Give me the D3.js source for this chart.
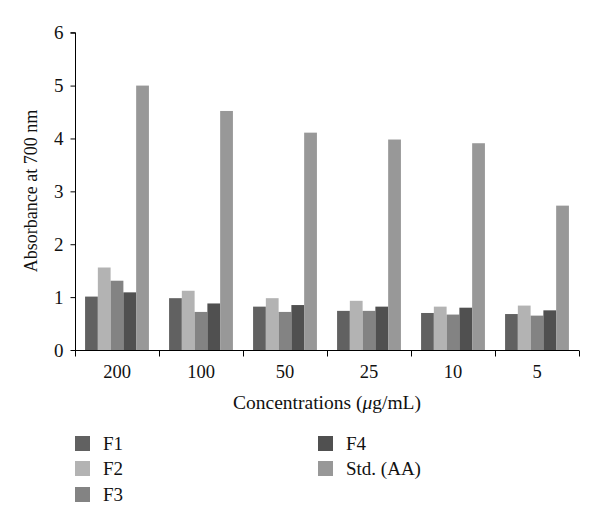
<!DOCTYPE html>
<html><head><meta charset="utf-8">
<script src="https://cdn.jsdelivr.net/npm/d3@7"></script>
<style>body{margin:0;background:#fff;} svg{display:block;font-family:"Liberation Serif","DejaVu Serif",serif;}</style>
</head><body>
<script>
const categories = ["200","100","50","25","10","5"];
const seriesNames = ["F1","F2","F3","F4","Std. (AA)"];
const F1 = [1.01,0.98,0.82,0.74,0.70,0.68];
const F2 = [1.56,1.12,0.98,0.93,0.82,0.84];
const F3 = [1.31,0.72,0.72,0.74,0.67,0.65];
const F4 = [1.09,0.88,0.85,0.82,0.80,0.75];
const StdAA = [5.00,4.52,4.11,3.98,3.91,2.73];
const yTicks = [0,1,2,3,4,5,6];
const colors = ["#616161","#b3b3b3","#838383","#505050","#989898"];

const seriesValues = [F1,F2,F3,F4,StdAA];
const W=600,H=529;
const FF='"Liberation Serif","DejaVu Serif",serif';
const svg=d3.select("body").append("svg").attr("width",W).attr("height",H);
const x=d3.scaleBand().domain(categories).range([75,579]).paddingInner(0.24).paddingOuter(0.12);
const xs=d3.scaleBand().domain(seriesNames).range([0,x.bandwidth()]);
const y=d3.scaleLinear().domain([0,6]).range([350,32.7]);

// bars
seriesNames.forEach((s,si)=>{
  svg.append("g").selectAll("rect").data(categories).enter().append("rect")
    .attr("x",c=>x(c)+xs(s)).attr("width",xs.bandwidth())
    .attr("y",(c,i)=>y(seriesValues[si][i])).attr("height",(c,i)=>y(0)-y(seriesValues[si][i]))
    .attr("fill",colors[si]);
});

// y axis
const ya=svg.append("g").attr("transform","translate(75.5,0)")
  .call(d3.axisLeft(y).tickValues(yTicks).tickFormat(d3.format("d")).tickSize(5).tickPadding(7));
ya.attr("font-family",FF).attr("font-size",null);
ya.select(".domain").attr("stroke","#000").attr("d","M-5,"+y(6)+"H0V"+(y(0)+0.5));
ya.selectAll("text").attr("font-size","19px").attr("fill","#111");

// x axis
const xa=svg.append("g").attr("transform","translate(0,350.5)");
xa.append("line").attr("x1",75).attr("x2",579).attr("stroke","#000");
const bounds=[75].concat(categories.map(c=>x(c)+x.bandwidth()+x.step()*x.paddingInner()/2));
bounds[bounds.length-1]=579;
xa.selectAll("line.t").data(bounds).enter().append("line").attr("class","t")
  .attr("x1",d=>Math.round(d)+0.5).attr("x2",d=>Math.round(d)+0.5).attr("y1",0).attr("y2",6).attr("stroke","#000");
xa.selectAll("text").data(categories).enter().append("text")
  .attr("x",c=>x(c)+x.bandwidth()/2).attr("y",27).attr("text-anchor","middle")
  .attr("font-size","18.5px").attr("fill","#111").text(c=>c);

// axis titles
svg.append("text").attr("transform","translate(37,191) rotate(-90)").attr("text-anchor","middle")
  .attr("font-size","18px").attr("fill","#111").text("Absorbance at 700 nm");
const xt=svg.append("text").attr("x",327).attr("y",409).attr("text-anchor","middle")
  .attr("font-size","19.5px").attr("fill","#111");
xt.append("tspan").text("Concentrations (");
xt.append("tspan").attr("font-style","italic").text("μ");
xt.append("tspan").text("g/mL)");

// legend
const legPos=[[75,436],[75,461],[75,487],[318,436],[318,461]];
seriesNames.forEach((s,i)=>{
  const [lx,ly]=legPos[i];
  svg.append("rect").attr("x",lx).attr("y",ly).attr("width",15).attr("height",15).attr("fill",colors[i]);
  svg.append("text").attr("x",lx+28).attr("y",ly+13.5).attr("font-size","19px").attr("fill","#111").text(s);
});
</script>
</body></html>
